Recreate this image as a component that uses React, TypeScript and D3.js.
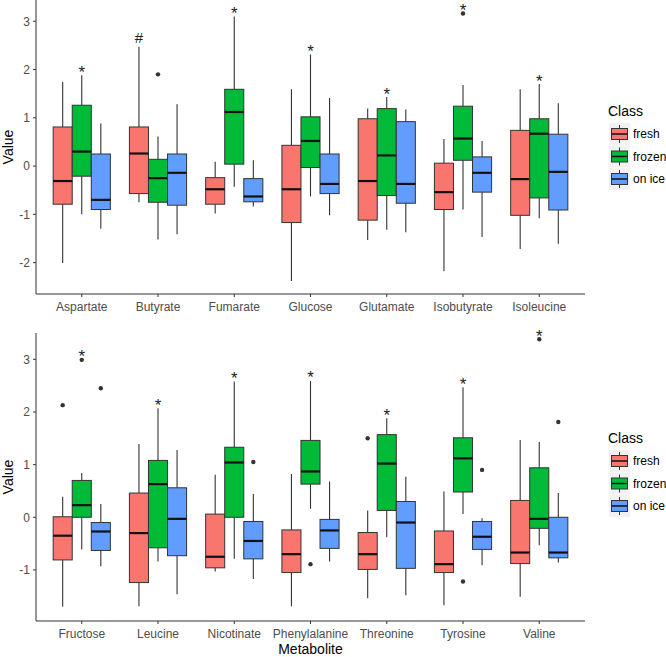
import React from 'react'
import * as d3 from 'd3'

// metabolites per panel
const topMetabolites = ['Aspartate', 'Butyrate', 'Fumarate', 'Glucose', 'Glutamate', 'Isobutyrate', 'Isoleucine']
const bottomMetabolites = ['Fructose', 'Leucine', 'Nicotinate', 'Phenylalanine', 'Threonine', 'Tyrosine', 'Valine']

const classes = ['fresh', 'frozen', 'on ice']
const classColors = ['#F8766D', '#00BA38', '#619CFF']

// [lower whisker, Q1, median, Q3, upper whisker]
const topFresh = [
  [-2.01, -0.79, -0.31, 0.81, 1.74],
  [-0.75, -0.57, 0.26, 0.81, 2.47],
  [-0.98, -0.79, -0.48, -0.24, 0.09],
  [-2.38, -1.17, -0.48, 0.43, 1.59],
  [-1.53, -1.12, -0.31, 0.98, 1.19],
  [-2.18, -0.90, -0.54, 0.06, 0.56],
  [-1.72, -1.02, -0.27, 0.74, 1.59],
]
const topFrozen = [
  [-1.0, -0.21, 0.3, 1.26, 1.88],
  [-1.52, -0.75, -0.25, 0.14, 0.61],
  [-0.43, 0.04, 1.12, 1.59, 3.1],
  [-0.63, -0.03, 0.52, 1.02, 2.31],
  [-1.32, -0.61, 0.22, 1.19, 1.43],
  [-0.9, 0.12, 0.57, 1.24, 1.68],
  [-1.08, -0.66, 0.67, 0.98, 1.7],
]
const topOnIce = [
  [-1.3, -0.9, -0.7, 0.25, 0.88],
  [-1.41, -0.81, -0.14, 0.25, 1.28],
  [-0.84, -0.74, -0.63, -0.26, 0.12],
  [-1.02, -0.57, -0.37, 0.25, 1.41],
  [-1.37, -0.77, -0.37, 0.92, 1.17],
  [-1.47, -0.54, -0.14, 0.19, 0.52],
  [-1.61, -0.91, -0.12, 0.66, 1.3],
]

const bottomFresh = [
  [-1.7, -0.81, -0.35, 0.01, 0.39],
  [-1.69, -1.24, -0.3, 0.46, 1.39],
  [-1.03, -0.96, -0.75, 0.06, 0.81],
  [-1.69, -1.05, -0.7, -0.24, 0.82],
  [-1.54, -0.99, -0.7, -0.29, 0.13],
  [-1.67, -1.05, -0.89, -0.26, 0.49],
  [-1.51, -0.88, -0.67, 0.32, 1.47],
]
const bottomFrozen = [
  [-0.61, 0.0, 0.23, 0.7, 0.84],
  [-0.84, -0.58, 0.63, 1.08, 2.07],
  [-0.79, 0.0, 1.04, 1.33, 2.58],
  [0.16, 0.63, 0.87, 1.46, 2.59],
  [-0.38, 0.13, 1.02, 1.57, 1.88],
  [0.06, 0.48, 1.12, 1.51, 2.47],
  [-0.53, -0.21, -0.03, 0.94, 1.43],
]
const bottomOnIce = [
  [-0.93, -0.63, -0.27, -0.1, 0.25],
  [-1.46, -0.73, -0.03, 0.56, 1.28],
  [-1.17, -0.79, -0.45, -0.08, 0.44],
  [-0.84, -0.59, -0.25, -0.04, 0.68],
  [-1.48, -0.97, -0.1, 0.3, 0.77],
  [-0.91, -0.61, -0.37, -0.08, -0.02],
  [-0.86, -0.77, -0.67, 0.0, 0.46],
]

const topOutliers = [
  { m: 'Butyrate', c: 'frozen', v: 1.9 },
  { m: 'Isobutyrate', c: 'frozen', v: 3.16 },
]
const bottomOutliers = [
  { m: 'Fructose', c: 'fresh', v: 2.13 },
  { m: 'Fructose', c: 'frozen', v: 2.99 },
  { m: 'Fructose', c: 'on ice', v: 2.45 },
  { m: 'Nicotinate', c: 'on ice', v: 1.05 },
  { m: 'Phenylalanine', c: 'frozen', v: -0.89 },
  { m: 'Threonine', c: 'fresh', v: 1.5 },
  { m: 'Tyrosine', c: 'frozen', v: -1.22 },
  { m: 'Tyrosine', c: 'on ice', v: 0.9 },
  { m: 'Valine', c: 'frozen', v: 3.38 },
  { m: 'Valine', c: 'on ice', v: 1.81 },
]

// significance marks placed above a box
const topMarks = [
  { m: 'Aspartate', c: 'frozen', s: '*' },
  { m: 'Butyrate', c: 'fresh', s: '#' },
  { m: 'Fumarate', c: 'frozen', s: '*' },
  { m: 'Glucose', c: 'frozen', s: '*' },
  { m: 'Glutamate', c: 'frozen', s: '*' },
  { m: 'Isobutyrate', c: 'frozen', s: '*' },
  { m: 'Isoleucine', c: 'frozen', s: '*' },
]
const bottomMarks = bottomMetabolites.map(m => ({ m, c: 'frozen', s: '*' }))

const topTicks = [-2, -1, 0, 1, 2, 3]
const bottomTicks = [-1, 0, 1, 2, 3]

const FONT = '"Liberation Sans", Arial, sans-serif'
const INK = '#333333'

function Panel({ metabolites, series, outliers, marks, ticks, domain, top, bottom, legendY, showXTitle }) {
  const left = 36
  const right = 585

  const x = d3.scaleBand().domain(metabolites).range([left, right]).paddingInner(0.25).paddingOuter(0.225)
  const xc = d3.scaleBand().domain(classes).range([0, x.bandwidth()])
  const y = d3.scaleLinear().domain(domain).range([bottom, top])

  const boxes = []
  metabolites.forEach((m, i) => {
    classes.forEach((c, j) => {
      const [lo, q1, med, q3, hi] = series[j][i]
      const bx = x(m) + xc(c)
      const bw = xc.bandwidth()
      const cx = bx + bw / 2
      boxes.push(
        <g key={m + c}>
          <line x1={cx} x2={cx} y1={y(hi)} y2={y(q3)} stroke={INK} strokeWidth={1.1} />
          <line x1={cx} x2={cx} y1={y(q1)} y2={y(lo)} stroke={INK} strokeWidth={1.1} />
          <rect x={bx} y={y(q3)} width={bw} height={y(q1) - y(q3)} fill={classColors[j]} stroke={INK} strokeWidth={1} />
          <line x1={bx} x2={bx + bw} y1={y(med)} y2={y(med)} stroke="#111" strokeWidth={2.2} />
        </g>
      )
    })
  })

  const centerOf = (m, c) => x(m) + xc(c) + xc.bandwidth() / 2

  return (
    <g>
      {boxes}
      {outliers.map((o, i) => (
        <circle key={'o' + i} cx={centerOf(o.m, o.c)} cy={y(o.v)} r={2.2} fill={INK} />
      ))}
      {marks.map((k, i) => {
        const j = classes.indexOf(k.c)
        const idx = metabolites.indexOf(k.m)
        const vals = [series[j][idx][4], ...outliers.filter(o => o.m === k.m && o.c === k.c).map(o => o.v)]
        const yTop = y(d3.max(vals))
        return (
          <text key={'k' + i} x={centerOf(k.m, k.c)} y={yTop + (k.s === '#' ? -3.5 : 2.5)} textAnchor="middle"
            fontFamily={FONT} fontSize={k.s === '#' ? 15 : 17} fill="#222">{k.s}</text>
        )
      })}

      {/* axes */}
      <line x1={left} x2={left} y1={top} y2={bottom} stroke={INK} strokeWidth={1} />
      <line x1={left} x2={right} y1={bottom} y2={bottom} stroke={INK} strokeWidth={1} />
      {ticks.map(t => (
        <g key={'t' + t}>
          <line x1={left - 3} x2={left} y1={y(t)} y2={y(t)} stroke={INK} />
          <text x={left - 6} y={y(t)} dy="0.36em" textAnchor="end" fontFamily={FONT} fontSize={12} fill="#4d4d4d">{t}</text>
        </g>
      ))}
      {metabolites.map(m => (
        <g key={'x' + m}>
          <line x1={x(m) + x.bandwidth() / 2} x2={x(m) + x.bandwidth() / 2} y1={bottom} y2={bottom + 3} stroke={INK} />
          <text x={x(m) + x.bandwidth() / 2} y={bottom + 17} textAnchor="middle" fontFamily={FONT} fontSize={12} fill="#4d4d4d">{m}</text>
        </g>
      ))}
      <text transform={`translate(13,${(top + bottom) / 2}) rotate(-90)`} textAnchor="middle" fontFamily={FONT} fontSize={14} fill="#000">Value</text>
      {showXTitle && (
        <text x={(left + right) / 2} y={654} textAnchor="middle" fontFamily={FONT} fontSize={14} fill="#000">Metabolite</text>
      )}

      {/* legend */}
      <text x={608} y={legendY - 18} fontFamily={FONT} fontSize={14} fill="#000">Class</text>
      {classes.map((c, j) => {
        const cy = legendY + j * 22.5
        return (
          <g key={'l' + c}>
            <rect x={609} y={cy - 11} width={21} height={22} fill="#f2f2f2" />
            <line x1={619.5} x2={619.5} y1={cy - 9} y2={cy + 9} stroke={INK} />
            <rect x={611.5} y={cy - 5.5} width={16} height={11} fill={classColors[j]} stroke={INK} />
            <line x1={611.5} x2={627.5} y1={cy} y2={cy} stroke="#111" strokeWidth={1.5} />
            <text x={633} y={cy} dy="0.36em" fontFamily={FONT} fontSize={12} fill="#000">{c}</text>
          </g>
        )
      })}
    </g>
  )
}

export default function App() {
  return (
    <svg width={666} height={657} style={{ position: 'absolute', left: 0, top: 0, background: '#fff' }}>
      <rect width={666} height={657} fill="#fff" />
      <Panel metabolites={topMetabolites} series={[topFresh, topFrozen, topOnIce]} outliers={topOutliers}
        marks={topMarks} ticks={topTicks} domain={[-2.65, 3.44]} top={0} bottom={294} legendY={134} showXTitle={false} />
      <Panel metabolites={bottomMetabolites} series={[bottomFresh, bottomFrozen, bottomOnIce]} outliers={bottomOutliers}
        marks={bottomMarks} ticks={bottomTicks} domain={[-1.97, 3.5]} top={333} bottom={621} legendY={461} showXTitle={true} />
    </svg>
  )
}
